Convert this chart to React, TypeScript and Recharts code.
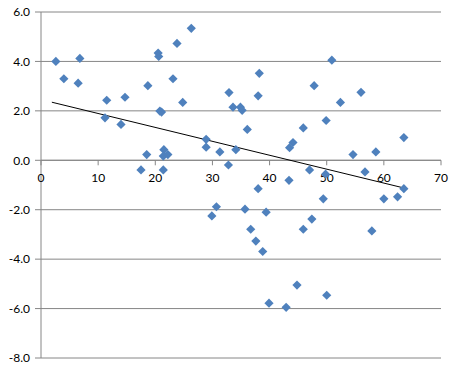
import { ScatterChart, Scatter, XAxis, YAxis, CartesianGrid, ReferenceDot, ReferenceLine } from 'recharts';

// values
const xValues = [
  2.6, 4.0, 6.8, 6.5, 11.5, 11.2, 14.7, 14.0, 18.7, 18.5, 17.5, 20.5, 20.6, 20.8, 21.1,
  23.8, 26.3, 23.1, 24.8, 21.5, 21.4, 22.2, 21.4, 28.9, 28.9, 31.3, 32.8, 32.9, 33.6, 34.9,
  35.2, 38.2, 38.0, 36.1, 34.1, 38.0, 43.4, 43.5, 44.1, 45.9, 47.8, 47.0, 49.9, 49.8, 50.9,
  52.4, 56.0, 54.6, 56.7, 58.6, 63.5, 63.5, 35.7, 39.4, 36.7, 37.6, 38.8, 49.4, 47.4, 45.9,
  57.9, 60.0, 62.4, 44.8, 39.9, 42.9, 50.0, 29.9, 30.7,
];
const yValues = [
  4.0, 3.3, 4.12, 3.12, 2.43, 1.72, 2.55, 1.45, 3.02, 0.23, -0.39, 4.34, 4.2, 1.99, 1.95,
  4.73, 5.34, 3.3, 2.34, 0.43, 0.17, 0.23, -0.39, 0.85, 0.53, 0.34, -0.19, 2.74, 2.15, 2.15,
  2.02, 3.52, 2.61, 1.25, 0.43, -1.15, -0.81, 0.51, 0.72, 1.31, 3.02, -0.39, 1.61, -0.56, 4.05,
  2.34, 2.75, 0.23, -0.47, 0.34, 0.92, -1.15, -1.98, -2.1, -2.79, -3.27, -3.69, -1.56, -2.38, -2.79,
  -2.86, -1.56, -1.48, -5.05, -5.78, -5.95, -5.46, -2.25, -1.88,
];
// linear trendline ends, as drawn in the picture
const trendX = [1.9, 63.5];
const trendY = [2.35, -1.12];

const xTicks = [0, 10, 20, 30, 40, 50, 60, 70];
const yTicks = [-8, -6, -4, -2, 0, 2, 4, 6];

const points = xValues.map((x, i) => ({ x, y: yValues[i] }));

const FONT = 'Lato, "Liberation Sans", sans-serif';
const GRID = '#868686';

function Diamond(props: any) {
  const { cx, cy } = props;
  const r = 4.6;
  return (
    <polygon
      points={`${cx},${cy - r} ${cx + r},${cy} ${cx},${cy + r} ${cx - r},${cy}`}
      fill="#4F81BD"
    />
  );
}

function XTickAtZero(label: number) {
  return (props: any) => {
    const { cx, cy } = props;
    return (
      <g>
        <line x1={cx} y1={cy} x2={cx} y2={cy + 5} stroke={GRID} />
        <text x={cx} y={cy + 22} textAnchor="middle" fontSize={12} fontFamily={FONT} fill="#000">
          {label}
        </text>
      </g>
    );
  };
}

export default function App() {
  return (
    <div style={{ position: 'absolute', left: 0, top: 0, background: '#fff' }}>
      <ScatterChart width={453} height={371} margin={{ top: 12, right: 12, bottom: 13, left: 0 }}>
        <CartesianGrid vertical={false} stroke={GRID} />
        <XAxis type="number" dataKey="x" domain={[0, 70]} ticks={xTicks} hide />
        <YAxis
          type="number"
          dataKey="y"
          domain={[-8, 6]}
          ticks={yTicks}
          width={41}
          tickSize={6}
          tickMargin={5}
          axisLine={{ stroke: GRID }}
          tickLine={{ stroke: GRID }}
          tickFormatter={(v: number) => v.toFixed(1)}
          tick={{ fontSize: 12, fontFamily: FONT, fill: '#000' }}
        />
        <ReferenceLine y={0} stroke={GRID} />
        {xTicks.map((t) => (
          <ReferenceDot key={t} x={t} y={0} r={0} shape={XTickAtZero(t)} />
        ))}
        <Scatter data={points} shape={<Diamond />} isAnimationActive={false} />
        <ReferenceLine
          segment={[
            { x: trendX[0], y: trendY[0] },
            { x: trendX[1], y: trendY[1] },
          ]}
          stroke="#000"
          strokeWidth={1}
        />
      </ScatterChart>
    </div>
  );
}
